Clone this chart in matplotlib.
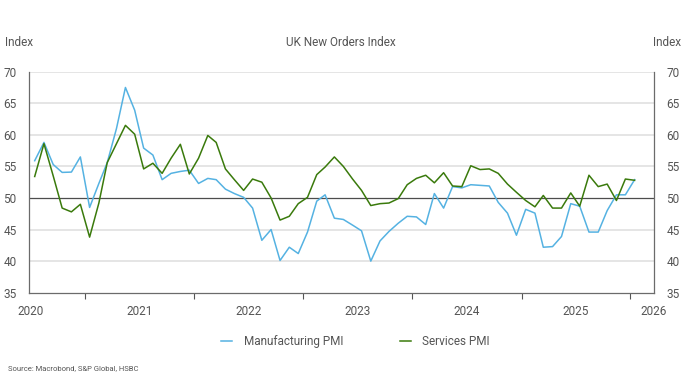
import matplotlib
matplotlib.use("Agg")
from matplotlib import pyplot as plt
import pandas as pd

# monthly data, Jul 2020 onwards
start = "2020-07-01"
manufacturing = [55.9, 58.8, 55.3, 54.05, 54.1, 56.5, 48.5, 52.3, 55.6, 61.0,
                 67.5, 63.9, 57.9, 56.8, 52.9, 53.9, 54.2, 54.4, 52.3, 53.1,
                 52.9, 51.4, 50.7, 50.1, 48.4, 43.3, 45.0, 40.1, 42.2, 41.2,
                 44.6, 49.5, 50.5, 46.8, 46.6, 45.7, 44.8, 40.0, 43.2, 44.7,
                 46.0, 47.1, 47.0, 45.8, 50.7, 48.4, 51.8, 51.6, 52.1, 52.0,
                 51.9, 49.3, 47.6, 44.1, 48.2, 47.6, 42.2, 42.3, 43.9, 49.1,
                 48.7, 44.6, 44.6, 48.0, 50.5, 50.5, 52.9]
services = [53.4, 58.6, 53.5, 48.4, 47.8, 49.0, 43.8, 49.2, 55.6, 58.6,
            61.5, 60.1, 54.6, 55.5, 53.9, 56.3, 58.5, 53.8, 56.3, 59.9,
            58.8, 54.6, 52.9, 51.2, 53.0, 52.5, 50.0, 46.5, 47.1, 49.1,
            50.1, 53.7, 54.9, 56.5, 55.0, 53.0, 51.2, 48.8, 49.1, 49.2,
            49.9, 52.1, 53.1, 53.6, 52.4, 54.0, 51.9, 51.8, 55.1, 54.5,
            54.6, 53.9, 52.2, 50.9, 49.6, 48.6, 50.4, 48.4, 48.4, 50.8,
            48.7, 53.6, 51.8, 52.2, 49.6, 53.0, 52.8]
years = ["2020", "2021", "2022", "2023", "2024", "2025", "2026"]

dates = pd.date_range(start, periods=len(manufacturing), freq="MS") + pd.Timedelta(days=14)

plt.rcParams['font.family'] = ['Roboto', 'DejaVu Sans']
grey = "#555555"

fig = plt.figure(figsize=(6.96, 3.90), dpi=100)
ax = fig.add_axes([0.0417, 0.2495, 0.8980, 0.5667])

for y in [40, 45, 55, 60, 65, 70]:
    ax.axhline(y, color="#dedede", lw=1.1, zorder=1)
ax.axhline(50, color="#4d4d4d", lw=0.9, zorder=2)

ax.plot(dates, manufacturing, color="#55b2e2", lw=1.1, label="Manufacturing PMI", zorder=3)
ax.plot(dates, services, color="#3a7a0c", lw=1.1, label="Services PMI", zorder=4)

x_left = pd.Timestamp("2020-06-26")
x_right = pd.Timestamp("2026-03-21")
ax.set_xlim(x_left, x_right)
ax.set_ylim(35, 70)
ax.set_yticks(range(35, 71, 5))

# tick marks at year boundaries, labels mid-year
ax.set_xticks([pd.Timestamp(f"{y}-01-01") for y in range(2021, 2027)])
ax.set_xticklabels([])
ax.tick_params(axis="x", which="major", direction="out", length=4, width=0.8, color=grey)
label_pos = [pd.Timestamp(f"{y}-07-01") for y in years[:-1]] + [x_right]
ax.set_xticks(label_pos, minor=True)
ax.set_xticklabels(years, minor=True)
ax.tick_params(axis="x", which="minor", length=0, pad=9, labelsize=8.5, labelcolor=grey)

ax.tick_params(axis="y", length=0, pad=9, labelsize=8.5, labelcolor=grey,
               left=True, right=True, labelleft=True, labelright=True)

for s in ["left", "right", "bottom"]:
    ax.spines[s].set_color("#6b6b6b")
    ax.spines[s].set_linewidth(0.9)
ax.spines["top"].set_visible(False)

fig.text(0.007, 0.892, "Index", fontsize=8.5, color=grey, ha="left", va="center")
fig.text(0.938, 0.892, "Index", fontsize=8.5, color=grey, ha="left", va="center")
fig.text(0.49, 0.892, "UK New Orders Index", fontsize=8.5, color=grey, ha="center", va="center")

fig.legend(loc="center", bbox_to_anchor=(0.511, 0.125), ncol=2, frameon=False,
           handlelength=0.9, handletextpad=1.0, columnspacing=4.8, fontsize=8.5,
           labelcolor=grey)
fig.text(0.012, 0.057, "Source: Macrobond, S&P Global, HSBC", fontsize=5.5, color=grey,
         ha="left", va="center")

fig.savefig("out.png", dpi=100)
